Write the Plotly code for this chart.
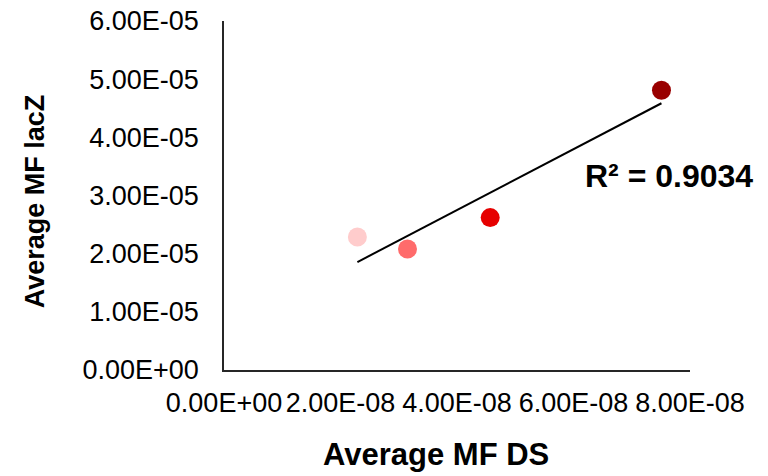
import numpy as np
import plotly.graph_objects as go

# Average mutation frequency per strain: DS reporter (x) vs lacZ reporter (y)
ds_mf = [2.29e-8, 3.15e-8, 4.57e-8, 7.51e-8]
lacz_mf = [2.285e-5, 2.08e-5, 2.62e-5, 4.81e-5]
point_colors = ["#FFCCCC", "#FF6B6B", "#E60000", "#990000"]

x_tick_vals = [0, 2e-8, 4e-8, 6e-8, 8e-8]
x_tick_text = ["0.00E+00", "2.00E-08", "4.00E-08", "6.00E-08", "8.00E-08"]
y_tick_vals = [0, 1e-5, 2e-5, 3e-5, 4e-5, 5e-5, 6e-5]
y_tick_text = ["0.00E+00", "1.00E-05", "2.00E-05", "3.00E-05",
               "4.00E-05", "5.00E-05", "6.00E-05"]
x_title = "Average MF DS"
y_title = "Average MF lacZ"
r2_label = "R² = 0.9034"

# Linear least-squares trendline over the span of the data
slope, intercept = np.polyfit(ds_mf, lacz_mf, 1)
trend_x = np.array([min(ds_mf), max(ds_mf)])
trend_y = slope * trend_x + intercept

font_family = "Liberation Sans, Arial, sans-serif"

fig = go.Figure()
fig.add_trace(go.Scatter(
    x=trend_x, y=trend_y, mode="lines",
    line=dict(color="black", width=2),
    hoverinfo="skip", showlegend=False,
))
fig.add_trace(go.Scatter(
    x=ds_mf, y=lacz_mf, mode="markers",
    marker=dict(size=19, color=point_colors, line=dict(width=0)),
    showlegend=False,
))

# R² label and the axis titles, placed relative to the plot area
fig.add_annotation(
    text="<b>" + r2_label + "</b>",
    xref="paper", yref="paper", x=0.955, y=0.556,
    xanchor="center", yanchor="middle", showarrow=False,
    font=dict(family=font_family, size=32, color="black"),
)
fig.add_annotation(
    text="<b>" + x_title + "</b>",
    xref="paper", yref="paper", x=0.455, y=-0.243,
    xanchor="center", yanchor="middle", showarrow=False,
    font=dict(family=font_family, size=31, color="black"),
)
fig.add_annotation(
    text="<b>" + y_title + "</b>",
    xref="paper", yref="paper", x=-0.405, y=0.484,
    xanchor="center", yanchor="middle", showarrow=False, textangle=-90,
    font=dict(family=font_family, size=27, color="black"),
)

axis_common = dict(
    showgrid=False, zeroline=False, showline=True,
    linecolor="#262626", linewidth=1.5, ticks="",
    tickfont=dict(family=font_family, size=27, color="black"),
)

fig.update_xaxes(
    range=[0, 8e-8], tickmode="array",
    tickvals=x_tick_vals, ticktext=x_tick_text,
    ticklabelstandoff=8,
    **axis_common,
)
fig.update_yaxes(
    range=[0, 6e-5], tickmode="array",
    tickvals=y_tick_vals, ticktext=y_tick_text,
    ticklabelstandoff=18,
    **axis_common,
)

fig.update_layout(
    width=768, height=476,
    margin=dict(l=224, r=78, t=21, b=106, autoexpand=False),
    plot_bgcolor="white", paper_bgcolor="white",
    font=dict(family=font_family, color="black"),
)

fig.write_html("out.html")
